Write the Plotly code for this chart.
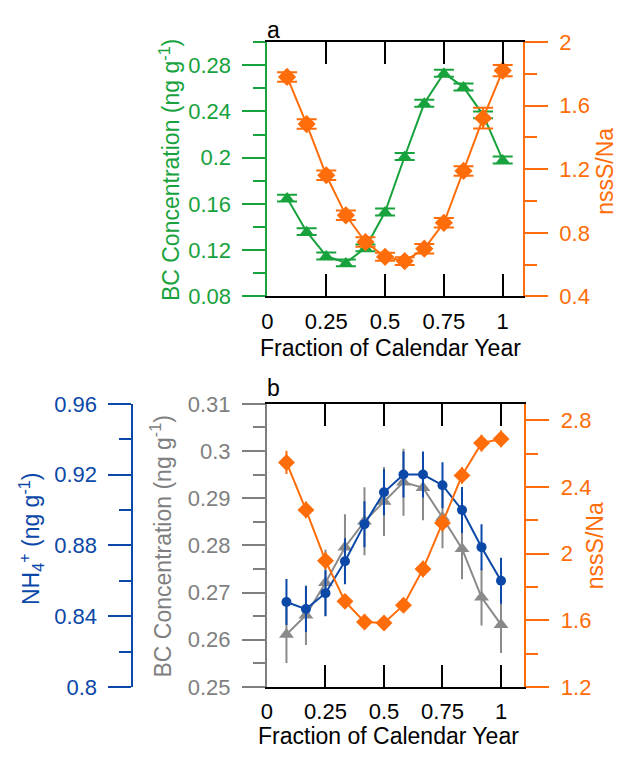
import plotly.graph_objects as go

# ---------------- data ----------------
months = [1/12, 2/12, 3/12, 4/12, 5/12, 6/12, 7/12, 8/12, 9/12, 10/12, 11/12, 12/12]

# panel a
bc_a = [0.165, 0.136, 0.115, 0.109, 0.122, 0.153, 0.201, 0.247, 0.273, 0.261, 0.237, 0.198]
bc_a_err = [0.003] * 12
nss_a = [1.78, 1.484, 1.162, 0.91, 0.742, 0.649, 0.622, 0.70, 0.863, 1.189, 1.521, 1.82]
nss_a_err = [0.03, 0.03, 0.03, 0.03, 0.03, 0.025, 0.025, 0.03, 0.03, 0.03, 0.065, 0.035]

# panel b
bc_b = [0.2611, 0.2652, 0.2721, 0.2796, 0.2851, 0.2893, 0.2934, 0.2922, 0.2859, 0.2793, 0.2690, 0.2632]
bc_b_err = [0.006, 0.0063, 0.007, 0.007, 0.0072, 0.0073, 0.0071, 0.0069, 0.0065, 0.0065, 0.006, 0.006]
nh4_b = [0.848, 0.844, 0.853, 0.871, 0.892, 0.910, 0.920, 0.920, 0.914, 0.900, 0.879, 0.860]
nh4_b_err = [0.013] * 12
nss_b = [2.548, 2.263, 1.958, 1.714, 1.59, 1.584, 1.691, 1.908, 2.185, 2.47, 2.664, 2.689]
nss_b_err = [0.07, 0.05, 0.05, 0.04, 0.04, 0.04, 0.04, 0.05, 0.05, 0.05, 0.05, 0.05]

xticks = [0, 0.25, 0.5, 0.75, 1]

GREEN = "#17A23D"
ORANGE = "#FF6D0A"
BLUE = "#0B48A8"
GRAY = "#8A8A8A"
GRAYTXT = "#7F7F7F"
FONT = "Liberation Sans, Arial, sans-serif"

W, H = 619, 767
def px(x):
    return x / W
def py(y):
    return 1 - y / H

fig = go.Figure()

# panel a traces
fig.add_trace(go.Scatter(
    x=months, y=bc_a, xaxis="x", yaxis="y", mode="lines+markers",
    line=dict(color=GREEN, width=2),
    marker=dict(symbol="triangle-up", size=12, color=GREEN),
    error_y=dict(type="data", array=bc_a_err, color=GREEN, thickness=2, width=10),
    showlegend=False))
fig.add_trace(go.Scatter(
    x=months, y=nss_a, xaxis="x", yaxis="y2", mode="lines+markers",
    line=dict(color=ORANGE, width=2),
    marker=dict(symbol="diamond", size=14, color=ORANGE),
    error_y=dict(type="data", array=nss_a_err, color=ORANGE, thickness=2, width=10),
    showlegend=False))

# panel b traces
fig.add_trace(go.Scatter(
    x=months, y=bc_b, xaxis="x2", yaxis="y3", mode="lines+markers",
    line=dict(color=GRAY, width=2),
    marker=dict(symbol="triangle-up", size=13, color=GRAY),
    error_y=dict(type="data", array=bc_b_err, color=GRAY, thickness=2, width=0),
    showlegend=False))
fig.add_trace(go.Scatter(
    x=months, y=nh4_b, xaxis="x2", yaxis="y4", mode="lines+markers",
    line=dict(color=BLUE, width=2),
    marker=dict(symbol="circle", size=10, color=BLUE),
    error_y=dict(type="data", array=nh4_b_err, color=BLUE, thickness=2, width=0),
    showlegend=False))
fig.add_trace(go.Scatter(
    x=months, y=nss_b, xaxis="x2", yaxis="y5", mode="lines+markers",
    line=dict(color=ORANGE, width=2),
    marker=dict(symbol="diamond", size=13, color=ORANGE),
    error_y=dict(type="data", array=nss_b_err, color=ORANGE, thickness=2, width=0),
    showlegend=False))

tickfont = lambda c: dict(family=FONT, size=22, color=c)

xcommon = dict(tickvals=xticks, ticktext=[f"{v:g}" for v in xticks],
               ticks="inside", ticklen=22, tickwidth=2, tickcolor="black",
               showline=True, linecolor="black", linewidth=2, mirror="ticks",
               showgrid=False, zeroline=False, tickfont=tickfont("black"),
               ticklabelstandoff=4)

def ycommon(color, rng, dtick, minor_dtick, side="left"):
    return dict(range=rng, tick0=rng[0], dtick=dtick, ticks="outside", ticklen=23,
                tickwidth=2, tickcolor=color, showline=True, linecolor=color,
                linewidth=2, showgrid=False, zeroline=False, tickfont=tickfont(color),
                side=side, ticklabelstandoff=7,
                minor=dict(dtick=minor_dtick, tick0=rng[0], ticks="outside", ticklen=12,
                           tickwidth=2, tickcolor=color, showgrid=False))

fig.update_layout(
    width=W, height=H, margin=dict(l=0, r=0, t=0, b=0),
    paper_bgcolor="white", plot_bgcolor="white",
    font=dict(family=FONT, size=22),
    xaxis=dict(domain=[px(264), px(522)], range=[0, 1.086], anchor="y", **xcommon),
    yaxis=dict(domain=[py(294), py(31)], anchor="x",
               **ycommon(GREEN, [0.08, 0.30], 0.04, 0.02)),
    yaxis2=dict(overlaying="y", anchor="x",
                **ycommon(ORANGE, [0.4, 2.0], 0.4, 0.2, side="right")),
    xaxis2=dict(domain=[px(263.5), px(523.5)], range=[0, 1.1], anchor="y3", **xcommon),
    yaxis3=dict(domain=[py(697.7), py(405)], anchor="x2",
                **ycommon(GRAYTXT, [0.25, 0.31], 0.01, 0.005)),
    yaxis4=dict(overlaying="y3", anchor="free", position=px(127.7),
                **ycommon(BLUE, [0.8, 0.96], 0.04, 0.02)),
    yaxis5=dict(overlaying="y3", anchor="x2",
                **ycommon(ORANGE, [1.2, 2.9], 0.4, 0.2, side="right")),
)

def ann(text, x, y, color, angle=0, size=23):
    fig.add_annotation(text=text, x=px(x), y=py(y), xref="paper", yref="paper",
                       showarrow=False, textangle=angle, xanchor="center", yanchor="middle",
                       font=dict(family=FONT, size=size, color=color))

ann("a", 270, 19, "black")
ann("b", 270, 389, "black")
ann("BC Concentration (ng g<sup>-1</sup>)", 165, 163, GREEN, -90)
ann("nssS/Na", 604, 165, ORANGE, -90)
ann("Fraction of Calendar Year", 388, 347, "black")
ann("NH<sub>4</sub><sup>+</sup> (ng g<sup>-1</sup>)", 25, 545, BLUE, -90)
ann("BC Concentration (ng g<sup>-1</sup>)", 157, 552, GRAYTXT, -90)
ann("nssS/Na", 595, 552, ORANGE, -90)
ann("Fraction of Calendar Year", 386, 748, "black")

fig.write_html("out.html", config={"displayModeBar": False},
               post_script="document.body.style.margin='0';document.body.style.padding='0';")
